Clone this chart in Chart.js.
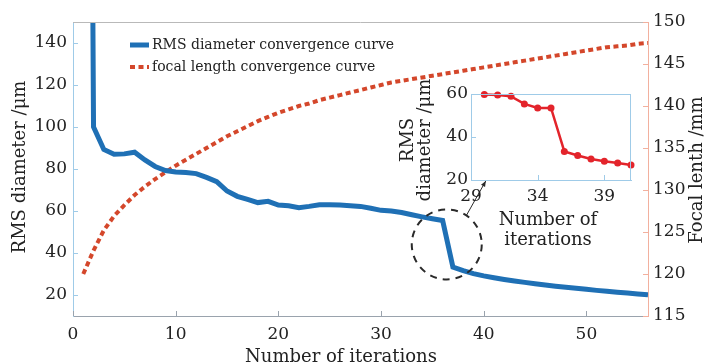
<!DOCTYPE html>
<html lang="en">
<head>
<meta charset="UTF-8" />
<title>RMS diameter / focal length convergence</title>
<script src="https://cdn.jsdelivr.net/npm/chart.js@4"></script>
<style>
  body { margin: 0; background: #fff; }
  #wrap { position: relative; width: 708px; height: 363px; }
  #mainChart { position: absolute; left: 0; top: 0; }
  #insetChart { position: absolute; left: 380px; top: 70px; }
</style>
</head>
<body>
<div id="wrap">
  <canvas id="mainChart" width="708" height="363"></canvas>
  <canvas id="insetChart" width="260" height="190"></canvas>
</div>
<script>
// main chart data
const iterations = [1, 2, 3, 4, 5, 6, 7, 8, 9, 10, 11, 12, 13, 14, 15, 16, 17, 18, 19, 20,
  21, 22, 23, 24, 25, 26, 27, 28, 29, 30, 31, 32, 33, 34, 35, 36, 37, 38, 39, 40,
  41, 42, 43, 44, 45, 46, 47, 48, 49, 50, 51, 52, 53, 54, 55, 56];
const rmsDiameter = [900, 100, 89.3, 87, 87.2, 88, 84.3, 81.2, 79.3, 78.6, 78.3, 77.8, 76, 74, 69.5, 67, 65.5, 64, 64.6, 62.8,
  62.5, 61.6, 62.2, 63, 63, 62.8, 62.5, 62.2, 61.3, 60.3, 60, 59.3, 58.2, 57.2, 56.3, 55.5, 33.3, 31.6, 30.2, 29.1,
  28.2, 27.4, 26.7, 26, 25.4, 24.8, 24.2, 23.7, 23.2, 22.7, 22.2, 21.8, 21.3, 20.9, 20.5, 20.1];
const focalLength = [120, 122.8, 125.2, 126.9, 128.2, 129.4, 130.4, 131.3, 132.1, 132.9, 133.6, 134.3, 135, 135.7, 136.4, 137, 137.6, 138.2, 138.7, 139.2,
  139.6, 140, 140.3, 140.7, 141, 141.3, 141.6, 141.9, 142.2, 142.5, 142.8, 143, 143.2, 143.4, 143.6, 143.8, 144, 144.2, 144.4, 144.6,
  144.8, 145, 145.2, 145.4, 145.6, 145.8, 146, 146.2, 146.4, 146.6, 146.8, 147, 147.1, 147.2, 147.4, 147.5];
const xTicks = [0, 10, 20, 30, 40, 50];
const rmsTicks = [20, 40, 60, 80, 100, 120, 140];
const focalTicks = [115, 120, 125, 130, 135, 140, 145, 150];

// inset (zoom on iterations 29-41)
const insetIterations = [30, 31, 32, 33, 34, 35, 36, 37, 38, 39, 40, 41];
const insetRms = [59.8, 59.5, 58.9, 55.4, 53.5, 53.5, 33.3, 31.4, 29.8, 28.7, 27.9, 27];
const insetXTicks = [29, 34, 39];
const insetYTicks = [20, 40, 60];

const serif = "'DejaVu Serif', 'Liberation Serif', serif";
const textColor = "#222";
const blue = "#1f70b5";
const orange = "#d4472b";
const axisBlue = "#9fcbe8";
const axisRed = "#f2b09e";

function fixTicks(values) {
  return (scale) => { scale.ticks = values.map((v) => ({ value: v })); };
}

function drawText(ctx, t) {
  ctx.save();
  ctx.translate(t.x, t.y);
  if (t.rotate) ctx.rotate(t.rotate);
  ctx.font = (t.size || 18) + "px " + serif;
  ctx.fillStyle = textColor;
  ctx.textAlign = t.align || "center";
  ctx.textBaseline = "middle";
  const lines = [].concat(t.text);
  lines.forEach((line, i) => ctx.fillText(line, 0, i * (t.lineHeight || 20)));
  ctx.restore();
}

// inward tick marks, frame lines, axis titles
const decorations = {
  id: "decorations",
  afterDraw(chart, args, opts) {
    const ctx = chart.ctx;
    const a = chart.chartArea;
    ctx.save();
    (opts.frame || []).forEach((f) => {
      ctx.strokeStyle = f.color;
      ctx.lineWidth = 1;
      ctx.beginPath();
      if (f.side === "top") { ctx.moveTo(a.left, a.top + 0.5); ctx.lineTo(a.right, a.top + 0.5); }
      if (f.side === "right") { ctx.moveTo(a.right - 0.5, a.top); ctx.lineTo(a.right - 0.5, a.bottom); }
      ctx.stroke();
    });
    (opts.ticks || []).forEach((s) => {
      const scale = chart.scales[s.id];
      ctx.strokeStyle = s.color;
      ctx.lineWidth = 1;
      scale.ticks.forEach((t) => {
        const p = Math.round(scale.getPixelForValue(t.value)) + 0.5;
        ctx.beginPath();
        if (s.side === "left") { ctx.moveTo(a.left, p); ctx.lineTo(a.left + 5, p); }
        if (s.side === "right") { ctx.moveTo(a.right, p); ctx.lineTo(a.right - 5, p); }
        if (s.side === "bottom") { ctx.moveTo(p, a.bottom); ctx.lineTo(p, a.bottom - 5); }
        ctx.stroke();
      });
    });
    ctx.restore();
    (opts.titles || []).forEach((t) => drawText(ctx, t));
  }
};

// legend inside the plot + dashed circle and arrow pointing at the inset
const annotations = {
  id: "annotations",
  afterDatasetsDraw(chart) {
    const ctx = chart.ctx;
    const x = chart.scales.x;
    const y = chart.scales.y;
    ctx.save();

    // legend
    chart.data.datasets.forEach((ds, i) => {
      const ly = 45 + i * 22;
      ctx.strokeStyle = ds.borderColor;
      ctx.lineWidth = ds.borderWidth;
      ctx.setLineDash(ds.borderDash || []);
      ctx.beginPath();
      ctx.moveTo(130, ly);
      ctx.lineTo(149, ly);
      ctx.stroke();
      ctx.setLineDash([]);
      ctx.font = "14px " + serif;
      ctx.fillStyle = textColor;
      ctx.textAlign = "left";
      ctx.textBaseline = "middle";
      ctx.fillText(ds.label, 152, ly);
    });

    // dashed circle around the drop
    const cx = x.getPixelForValue(36.4);
    const cy = y.getPixelForValue(44.1);
    const r = 35;
    ctx.strokeStyle = "#2a2a2a";
    ctx.lineWidth = 2;
    ctx.setLineDash([7, 6]);
    ctx.beginPath();
    ctx.arc(cx, cy, r, 0, Math.PI * 2);
    ctx.stroke();
    ctx.setLineDash([]);

    // arrow to the inset
    const ang = Math.atan2(-28.3, 19.2);
    const sx = cx + r * Math.cos(ang);
    const sy = cy + r * Math.sin(ang);
    const ex = x.getPixelForValue(40.2);
    const ey = y.getPixelForValue(74.3);
    ctx.lineWidth = 1;
    ctx.beginPath();
    ctx.moveTo(sx, sy);
    ctx.lineTo(ex, ey);
    ctx.stroke();
    const ha = Math.atan2(ey - sy, ex - sx);
    ctx.fillStyle = "#2a2a2a";
    ctx.beginPath();
    ctx.moveTo(ex, ey);
    ctx.lineTo(ex - 6 * Math.cos(ha - 0.4), ey - 6 * Math.sin(ha - 0.4));
    ctx.lineTo(ex - 6 * Math.cos(ha + 0.4), ey - 6 * Math.sin(ha + 0.4));
    ctx.closePath();
    ctx.fill();
    ctx.restore();
  }
};

const tickFont = { family: serif, size: 17 };

new Chart(document.getElementById("mainChart"), {
  type: "line",
  data: {
    datasets: [
      {
        label: "RMS diameter convergence curve",
        data: iterations.map((it, i) => ({ x: it, y: rmsDiameter[i] })),
        borderColor: blue,
        borderWidth: 5,
        pointRadius: 0,
        yAxisID: "y",
      },
      {
        label: "focal length convergence curve",
        data: iterations.map((it, i) => ({ x: it, y: focalLength[i] })),
        borderColor: orange,
        borderWidth: 4,
        borderDash: [5, 3.5],
        pointRadius: 0,
        yAxisID: "y1",
      },
    ],
  },
  options: {
    responsive: false,
    animation: false,
    layout: { padding: { top: 22 } },
    plugins: {
      legend: { display: false },
      tooltip: { enabled: false },
      decorations: {
        frame: [{ side: "top", color: "#b9b9b9" }],
        ticks: [
          { id: "y", side: "left", color: axisBlue },
          { id: "y1", side: "right", color: axisRed },
          { id: "x", side: "bottom", color: "#9aa3ad" },
        ],
        titles: [
          { text: "RMS diameter /\u03bcm", x: 20, y: 167, rotate: -Math.PI / 2 },
          { text: "Focal lenth /mm", x: 697, y: 170, rotate: -Math.PI / 2 },
          { text: "Number of iterations", x: 341, y: 357 },
        ],
      },
    },
    scales: {
      x: {
        type: "linear",
        min: 0,
        max: 56,
        afterBuildTicks: fixTicks(xTicks),
        afterFit: (s) => { s.height = 47; },
        grid: { display: false, drawTicks: false },
        border: { color: "#9aa3ad" },
        ticks: { font: tickFont, color: textColor, padding: 8, maxRotation: 0 },
      },
      y: {
        position: "left",
        min: 10,
        max: 150,
        afterBuildTicks: fixTicks(rmsTicks),
        afterFit: (s) => { s.width = 73; },
        grid: { display: false, drawTicks: false },
        border: { color: axisBlue },
        ticks: { font: tickFont, color: textColor, padding: 6 },
      },
      y1: {
        position: "right",
        min: 115,
        max: 150,
        afterBuildTicks: fixTicks(focalTicks),
        afterFit: (s) => { s.width = 60; },
        grid: { display: false, drawTicks: false },
        border: { color: axisRed },
        ticks: { font: tickFont, color: textColor, padding: 5 },
      },
    },
  },
  plugins: [decorations, annotations],
});

new Chart(document.getElementById("insetChart"), {
  type: "line",
  data: {
    datasets: [
      {
        label: "RMS diameter",
        data: insetIterations.map((it, i) => ({ x: it, y: insetRms[i] })),
        borderColor: "#e3242b",
        backgroundColor: "#e3242b",
        borderWidth: 2.5,
        pointRadius: 3.5,
        pointBorderWidth: 0,
        clip: false,
      },
    ],
  },
  options: {
    responsive: false,
    animation: false,
    layout: { padding: { top: 24, right: 9 } },
    plugins: {
      legend: { display: false },
      tooltip: { enabled: false },
      decorations: {
        frame: [
          { side: "top", color: axisBlue },
          { side: "right", color: axisBlue },
        ],
        ticks: [
          { id: "y", side: "left", color: axisBlue },
          { id: "x", side: "bottom", color: axisBlue },
        ],
        titles: [
          { text: ["RMS", "diameter /\u03bcm"], x: 28, y: 70, rotate: -Math.PI / 2, lineHeight: 17 },
          { text: ["Number of", "iterations"], x: 168, y: 150, lineHeight: 20 },
        ],
      },
    },
    scales: {
      x: {
        type: "linear",
        min: 29,
        max: 41,
        afterBuildTicks: fixTicks(insetXTicks),
        afterFit: (s) => { s.height = 80; },
        grid: { display: false, drawTicks: false },
        border: { color: axisBlue },
        ticks: { font: tickFont, color: textColor, padding: 6, maxRotation: 0 },
      },
      y: {
        min: 20,
        max: 60,
        afterBuildTicks: fixTicks(insetYTicks),
        afterFit: (s) => { s.width = 91; },
        grid: { display: false, drawTicks: false },
        border: { color: axisBlue },
        ticks: { font: tickFont, color: textColor, padding: 3 },
      },
    },
  },
  plugins: [decorations],
});
</script>
</body>
</html>
